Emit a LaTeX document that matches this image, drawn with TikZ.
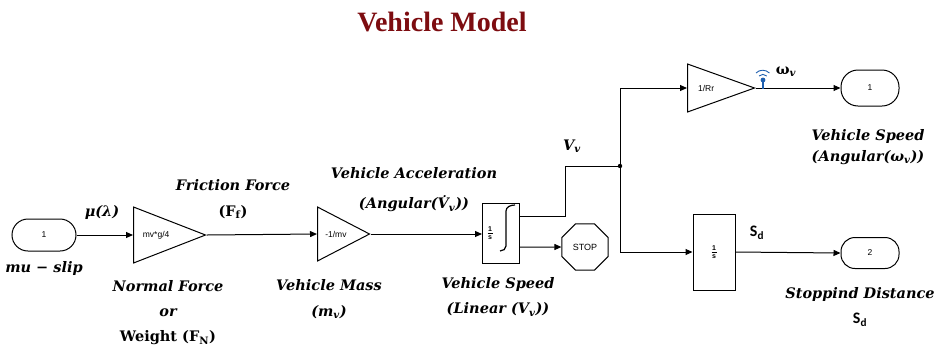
\documentclass[tikz,border=0pt]{standalone}
\usepackage{fontspec}
\setmainfont{DejaVu Serif}
\newfontfamily\titlefont{Liberation Serif}
\newfontfamily\blockfont{Liberation Sans}
\newfontfamily\subfont{Carlito}
\usetikzlibrary{arrows.meta,positioning,shapes.geometric,calc}
\definecolor{titlered}{RGB}{125,12,16}
\definecolor{sigblue}{RGB}{30,95,175}

\newcommand{\onefrac}{\shortstack{1\\[-1pt]\rule{5pt}{0.5pt}\\[-1pt]s}}

\tikzset{
  gain/.style={draw, isosceles triangle, isosceles triangle stretches,
    shape border rotate=0, inner sep=0pt, anchor=lower side,
    font=\blockfont\fontsize{8.5}{9}\selectfont},
  port/.style={draw, rectangle, rounded corners=14pt, inner sep=0pt,
    font=\blockfont\fontsize{8.5}{9}\selectfont},
  intbox/.style={draw, rectangle, inner sep=0pt},
  sig/.style={-{Triangle[length=7pt,width=6pt]}},
  lbl/.style={font=\fontsize{14.5}{17}\selectfont\bfseries\itshape, align=center},
}

\begin{document}
\begin{tikzpicture}[x=1pt,y=-1pt,line width=1pt]
  \useasboundingbox (0,0) rectangle (936,349);
  % title
  \node[font=\titlefont\fontsize{28}{30}\selectfont\bfseries, text=titlered] (title) at (442,22) {Vehicle Model};

  % blocks
  \node[port, minimum width=64pt, minimum height=32pt, rounded corners=16pt] (in1) at (44,235) {1};
  \node[gain, minimum width=56pt, minimum height=72pt] (g1) at (133,235) {mv*g/4};
  \node[gain, minimum width=54pt, minimum height=52pt] (g2) at (317,234) {-1/mv};
  \node[intbox, minimum width=37pt, minimum height=60pt] (int) at (501,233) {};
  \node[font=\blockfont\fontsize{7}{7}\selectfont\bfseries, inner sep=0pt] (intfrac) at ([xshift=-11pt]int.center) {\onefrac};
  \draw[line width=1.2pt] ([xshift=-1pt,yshift=-18pt]int.center) to[out=0,in=-90] ([xshift=5pt,yshift=-13pt]int.center)
    -- ([xshift=5pt,yshift=22pt]int.center) to[out=90,in=180] ([xshift=14pt,yshift=28pt]int.center);
  \node[draw, regular polygon, regular polygon sides=8, minimum size=50pt, inner sep=0pt,
    font=\blockfont\fontsize{9}{10}\selectfont] (stop) at (585,247) {STOP};
  \node[gain, minimum width=48pt, minimum height=67pt] (g3) at (687,88) {1/Rr};
  \node[intbox, minimum width=42pt, minimum height=76pt,
    font=\blockfont\fontsize{7}{7}\selectfont\bfseries] (blk) at (714,252) {\onefrac};
  \node[port, minimum width=58pt, minimum height=36pt, rounded corners=17pt] (out1) at (870,88) {1};
  \node[port, minimum width=58pt, minimum height=31pt] (out2) at (870,253) {2};

  % connectors
  \coordinate (vv) at (565,166);
  \coordinate (jn) at (620,166);
  \draw[sig] (in1.east) -- (g1.lower side);
  \draw[sig] (g1.apex) -- (g2.lower side);
  \draw[sig] (g2.apex) -- (int.west |- g2.apex);
  \draw ([yshift=17pt]int.east) -| (vv) -- (jn);
  \draw[sig] ([yshift=-14pt]int.east) -- (stop.west);
  \draw[sig] (jn) |- (g3.lower side);
  \draw[sig] (jn) |- (blk.west);
  \draw[sig] (g3.apex) -- (out1.west);
  \draw[sig] (blk.east) -- (out2.west);
  \fill (jn) circle (2.2pt);

  % signal marker
  \draw[sigblue, line width=1.4pt] (763,80) -- (763,89);
  \fill[sigblue] (763,80) circle (2.4pt);
  \draw[sigblue, line width=0.9pt] (759,76) arc[start angle=135, end angle=45, radius=5.5pt];
  \draw[sigblue, line width=0.9pt] (756,73) arc[start angle=135, end angle=45, radius=9.5pt];

  % labels
  \node[lbl] (mu) at (102,212) {μ(λ)};
  \node[lbl] (inlbl) at (44,268) {mu − slip};
  \node[lbl] (ff) at (233,185) {Friction Force};
  \node[lbl, font=\fontsize{14.5}{17}\selectfont\bfseries] (fflbl) at (233,212) {(F\textsubscript{f})};
  \node[lbl, font=\fontsize{14.5}{25}\selectfont\bfseries\itshape] (fn) at (168,313) {Normal Force\\or\\{\upshape Weight (F\textsubscript{N})}};
  \node[lbl, font=\fontsize{14.5}{26}\selectfont\bfseries\itshape] (mv) at (329,299) {Vehicle Mass\\(m\textsubscript{v})};
  \node[lbl, font=\fontsize{14.5}{30}\selectfont\bfseries\itshape] (acc) at (414,190) {Vehicle Acceleration\\(Angular(\.{V}\textsubscript{v}))};
  \node[lbl, font=\fontsize{14.5}{25}\selectfont\bfseries\itshape] (lin) at (498,297) {Vehicle Speed\\(Linear (V\textsubscript{v}))};
  \node[lbl] (vlbl) at (572,146) {V\textsubscript{v}};
  \node[lbl] (wlbl) at (786,72) {{\upshape ω}\textsubscript{v}};
  \node[lbl, font=\fontsize{14.5}{21}\selectfont\bfseries\itshape] (ang) at (868,147) {Vehicle Speed\\(Angular(ω\textsubscript{v}))};
  \node[font=\subfont\fontsize{16}{17}\selectfont\bfseries] (sd) at (757,233) {S\textsubscript{d}};
  \node[lbl, font=\fontsize{14.5}{25}\selectfont\bfseries\itshape] (dist) at (860,307) {Stoppind Distance\\{\subfont\upshape\fontsize{16}{17}\selectfont S\textsubscript{d}}};
\end{tikzpicture}
\end{document}
